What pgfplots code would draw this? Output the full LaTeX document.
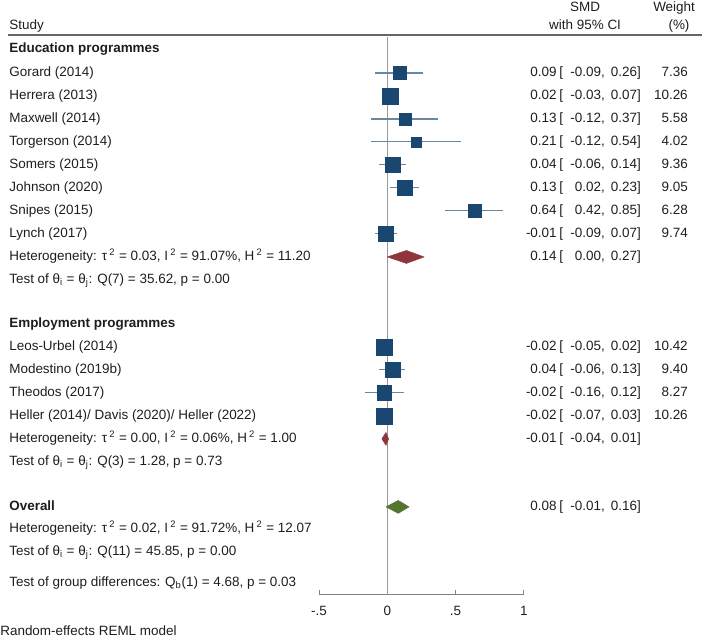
\documentclass[border=0pt]{standalone}
\usepackage{pgfplots}
\pgfplotsset{compat=1.18}
\usepackage{pgfplotstable}
\usepackage{fontspec}
\setmainfont{Liberation Sans}
\definecolor{navy}{RGB}{26,71,111}
\definecolor{maroonc}{RGB}{144,53,59}
\definecolor{forest}{RGB}{85,117,47}
\definecolor{txt}{RGB}{30,30,30}

\pgfplotstableread{
est lo hi w y
0.09 -0.09 0.26 7.36 -73
0.02 -0.03 0.07 10.26 -96
0.13 -0.12 0.37 5.58 -119
0.21 -0.12 0.54 4.02 -142
0.04 -0.06 0.14 9.36 -165
0.13 0.02 0.23 9.05 -188
0.64 0.42 0.85 6.28 -211
-0.01 -0.09 0.07 9.74 -234
-0.02 -0.05 0.02 10.42 -347
0.04 -0.06 0.13 9.40 -370
-0.02 -0.16 0.12 8.27 -393
-0.02 -0.07 0.03 10.26 -416
}\studies

% px -> data: (px-387.3)/136.5
\newcommand{\ci}[4]{% y, est, lo, hi
  \node[anchor=east] at (axis cs:1.243,#1) {#2};
  \node[anchor=west] at (axis cs:1.259,#1) {[};
  \node[anchor=east] at (axis cs:1.595,#1) {#3,};
  \node[anchor=east] at (axis cs:1.859,#1) {#4]};}
\newcommand{\srow}[6]{% y, name, est, lo, hi, weight
  \node[anchor=west] at (axis cs:-2.771,#1) {#2};
  \ci{#1}{#3}{#4}{#5}
  \node[anchor=east] at (axis cs:2.203,#1) {#6};}
\newcommand{\lt}[2]{\node[anchor=west] at (axis cs:-2.771,#1) {#2};}

\begin{document}
\begin{tikzpicture}[font=\fontsize{10.1}{12}\selectfont,
  every node/.style={text=txt, inner xsep=0pt, text height=7.2pt, text depth=2.1pt}]
\begin{axis}[
  scale only axis, width=153.6pt, height=418.5pt,
  xmin=-0.5, xmax=1, ymin=-595, ymax=-37,
  axis x line=bottom, axis y line=none,
  x axis line style={-, draw=black!50, line width=0.8pt},
  xtick={-0.5,0,0.5,1}, xticklabels={-.5,0,.5,1},
  tick align=inside, major tick length=3.5pt,
  tick style={draw=black!50, line width=0.8pt},
  xticklabel style={font=\fontsize{10.1}{12}\selectfont, text=txt, yshift=-5pt},
  clip=false]

% zero line
\addplot[draw=black!40, line width=0.75pt] coordinates {(0,-37) (0,-595)};

% header
\draw[black!60, line width=1.3pt] (axis cs:-2.779,-35) -- (axis cs:2.306,-35);
\node[anchor=west] at (axis cs:-2.771,-26) {Study};
\node at (axis cs:1.449,-8) {SMD};
\node at (axis cs:1.449,-26) {with 95\% CI};
\node at (axis cs:2.101,-8) {Weight};
\node at (axis cs:2.137,-26) {(\%)};

% CIs
\addplot[only marks, mark=none,
  error bars/.cd, x dir=both, x explicit, error mark=none,
  error bar style={navy!65, line width=0.8pt}]
  table[x=est, y=y, x error plus expr=\thisrow{hi}-\thisrow{est},
        x error minus expr=\thisrow{est}-\thisrow{lo}]{\studies};

% squares
\addplot[scatter, only marks, mark=square*,
  scatter/use mapped color={draw=navy, fill=navy},
  visualization depends on={1.875*sqrt(\thisrow{w}) \as \msz},
  scatter/@pre marker code/.append style={/tikz/mark size=\msz pt}]
  table[x=est, y=y]{\studies};

% diamonds
\addplot[fill=maroonc, draw=maroonc, line width=0.3pt] coordinates {(0.00,-257) (0.14,-250.5) (0.27,-257) (0.14,-263.5) (0.00,-257)};
\addplot[fill=maroonc, draw=maroonc, line width=0.3pt] coordinates {(-0.04,-439) (-0.01,-432.5) (0.01,-439) (-0.01,-445.5) (-0.04,-439)};
\addplot[fill=forest, draw=forest, line width=0.3pt] coordinates {(-0.01,-507) (0.08,-500.5) (0.16,-507) (0.08,-513.5) (-0.01,-507)};

% text
\lt{-49}{\textbf{Education programmes}}
\srow{-73}{Gorard (2014)}{0.09}{-0.09}{0.26}{7.36}
\srow{-96}{Herrera (2013)}{0.02}{-0.03}{0.07}{10.26}
\srow{-119}{Maxwell (2014)}{0.13}{-0.12}{0.37}{5.58}
\srow{-142}{Torgerson (2014)}{0.21}{-0.12}{0.54}{4.02}
\srow{-165}{Somers (2015)}{0.04}{-0.06}{0.14}{9.36}
\srow{-188}{Johnson (2020)}{0.13}{0.02}{0.23}{9.05}
\srow{-211}{Snipes (2015)}{0.64}{0.42}{0.85}{6.28}
\srow{-234}{Lynch (2017)}{-0.01}{-0.09}{0.07}{9.74}
\lt{-257}{Heterogeneity: τ\,\textsuperscript{2} = 0.03, I\,\textsuperscript{2} = 91.07\%, H\,\textsuperscript{2} = 11.20}
\ci{-257}{0.14}{0.00}{0.27}
\lt{-280}{Test of θ\textsubscript{i} = θ\textsubscript{j}: Q(7) = 35.62, p = 0.00}

\lt{-324}{\textbf{Employment programmes}}
\srow{-347}{Leos-Urbel (2014)}{-0.02}{-0.05}{0.02}{10.42}
\srow{-370}{Modestino (2019b)}{0.04}{-0.06}{0.13}{9.40}
\srow{-393}{Theodos (2017)}{-0.02}{-0.16}{0.12}{8.27}
\srow{-416}{Heller (2014)/ Davis (2020)/ Heller (2022)}{-0.02}{-0.07}{0.03}{10.26}
\lt{-439}{Heterogeneity: τ\,\textsuperscript{2} = 0.00, I\,\textsuperscript{2} = 0.06\%, H\,\textsuperscript{2} = 1.00}
\ci{-439}{-0.01}{-0.04}{0.01}
\lt{-462}{Test of θ\textsubscript{i} = θ\textsubscript{j}: Q(3) = 1.28, p = 0.73}

\lt{-507}{\textbf{Overall}}
\ci{-507}{0.08}{-0.01}{0.16}
\lt{-529}{Heterogeneity: τ\,\textsuperscript{2} = 0.02, I\,\textsuperscript{2} = 91.72\%, H\,\textsuperscript{2} = 12.07}
\lt{-552}{Test of θ\textsubscript{i} = θ\textsubscript{j}: Q(11) = 45.85, p = 0.00}
\lt{-583}{Test of group differences: Q\textsubscript{b}(1) = 4.68, p = 0.03}
\node[anchor=west] at (axis cs:-2.837,-632) {Random-effects REML model};

\coordinate (TL) at (axis cs:-2.8374,0);
\coordinate (BR) at (axis cs:2.3055,-637);
\end{axis}
\pgfresetboundingbox
\path[use as bounding box] (TL) rectangle (BR);
\end{tikzpicture}
\end{document}
